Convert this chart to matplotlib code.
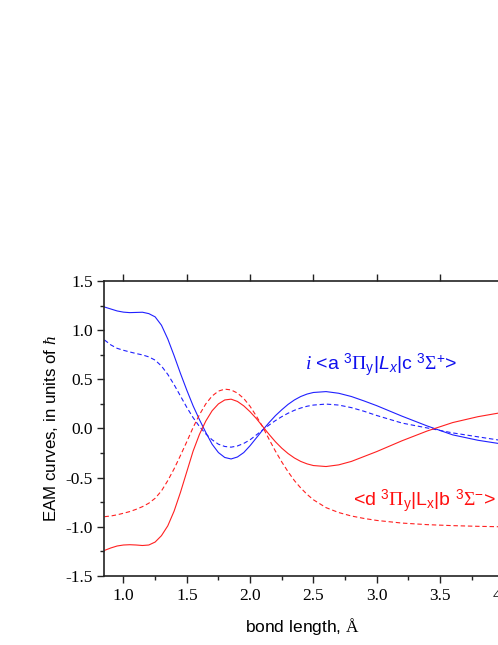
import numpy as np
import matplotlib
matplotlib.use("Agg")
import matplotlib.pyplot as plt
from matplotlib.ticker import MultipleLocator

# --- data (bond length in Angstrom, EAM in units of hbar) ---
bond_length = [0.85, 0.90, 0.95, 1.00, 1.05, 1.10, 1.15, 1.20, 1.25, 1.30, 1.35, 1.40,
               1.45, 1.50, 1.55, 1.60, 1.65, 1.70, 1.75, 1.80, 1.85, 1.90, 1.95, 2.00,
               2.05, 2.10, 2.15, 2.20, 2.25, 2.30, 2.35, 2.40, 2.45, 2.50, 2.60, 2.70,
               2.80, 2.90, 3.00, 3.20, 3.40, 3.60, 3.80, 4.00]

# i <a 3Pi_y | L_x | c 3Sigma+>
ac_solid = [1.235, 1.215, 1.195, 1.183, 1.178, 1.18, 1.182, 1.168, 1.135, 1.05, 0.91, 0.74,
            0.56, 0.39, 0.23, 0.09, -0.04, -0.16, -0.245, -0.295, -0.31, -0.29, -0.245, -0.175,
            -0.095, -0.015, 0.06, 0.13, 0.19, 0.245, 0.29, 0.325, 0.35, 0.366, 0.375, 0.358,
            0.325, 0.28, 0.232, 0.125, 0.025, -0.065, -0.12, -0.16]
ac_dashed = [0.90, 0.85, 0.815, 0.795, 0.778, 0.762, 0.748, 0.728, 0.695, 0.635, 0.55, 0.445,
             0.33, 0.215, 0.11, 0.02, -0.055, -0.115, -0.16, -0.183, -0.19, -0.178, -0.152, -0.115,
             -0.065, -0.015, 0.035, 0.08, 0.12, 0.155, 0.185, 0.208, 0.226, 0.238, 0.248, 0.238,
             0.212, 0.175, 0.132, 0.055, 0.005, -0.045, -0.085, -0.125]

# <d 3Pi_y | L_x | b 3Sigma->
db_solid = [-1.24, -1.215, -1.195, -1.185, -1.182, -1.185, -1.19, -1.185, -1.155, -1.09, -0.99, -0.84,
            -0.65, -0.44, -0.23, -0.06, 0.075, 0.18, 0.25, 0.29, 0.298, 0.275, 0.23, 0.17,
            0.10, 0.02, -0.06, -0.135, -0.20, -0.255, -0.30, -0.335, -0.36, -0.377, -0.387, -0.37,
            -0.335, -0.285, -0.235, -0.125, -0.025, 0.06, 0.12, 0.165]
db_dashed = [-0.897, -0.89, -0.878, -0.862, -0.845, -0.822, -0.795, -0.76, -0.71, -0.635, -0.53, -0.41,
             -0.275, -0.135, 0.01, 0.14, 0.25, 0.33, 0.38, 0.40, 0.392, 0.36, 0.305, 0.225,
             0.125, 0.015, -0.11, -0.23, -0.34, -0.44, -0.53, -0.605, -0.67, -0.725, -0.805, -0.855,
             -0.89, -0.915, -0.935, -0.962, -0.978, -0.988, -0.995, -1.0]

# mathtext: serif for greek / hbar / Angstrom, sans for the rest
plt.rcParams['mathtext.fontset'] = 'custom'
plt.rcParams['mathtext.rm'] = 'Liberation Serif'
plt.rcParams['mathtext.it'] = 'Liberation Serif:italic'
plt.rcParams['mathtext.sf'] = 'Liberation Sans'
plt.rcParams['mathtext.bf'] = 'Liberation Sans:italic'
plt.rcParams['font.family'] = ['Liberation Sans', 'DejaVu Sans']

fig = plt.figure(figsize=(4.98, 6.45), dpi=100)
# axes run past the right edge of the picture, like the cropped original
ax = fig.add_axes([0.2098, 0.107, 0.928, 0.4574])

blue, red = '#2020ff', '#ff2020'
dash = (0, (4, 2.5))
ax.plot(bond_length, ac_solid, color=blue, lw=0.8)
ax.plot(bond_length, ac_dashed, color=blue, lw=0.8, ls=dash)
ax.plot(bond_length, db_solid, color=red, lw=0.8)
ax.plot(bond_length, db_dashed, color=red, lw=0.8, ls=dash)

ax.set_xlim(0.85, 4.5)
ax.set_ylim(-1.5, 1.5)
ax.xaxis.set_major_locator(MultipleLocator(0.5))
ax.xaxis.set_minor_locator(MultipleLocator(0.25))
ax.yaxis.set_major_locator(MultipleLocator(0.5))
ax.yaxis.set_minor_locator(MultipleLocator(0.25))
ax.xaxis.set_major_formatter(lambda v, pos: f"{v:.1f}")
ax.yaxis.set_major_formatter(lambda v, pos: f"{v:.1f}")

ax.tick_params(which='both', direction='out', top=True, right=False, width=1.0, color='#222222')
ax.tick_params(which='major', length=5)
ax.tick_params(which='minor', length=3, top=False)
ax.tick_params(axis='both', labelsize=12.5, pad=3.5)
for lab in ax.get_xticklabels() + ax.get_yticklabels():
    lab.set_fontfamily('Liberation Serif')
for sp in ax.spines.values():
    sp.set_linewidth(1.2)
    sp.set_color('#222222')

ax.set_xlabel(r'bond length, $\mathrm{Å}$', fontsize=12.5)
ax.xaxis.set_label_coords(0.4286, -0.135)
ax.set_ylabel(r'EAM curves, in units of $\hbar$', fontsize=12.2, labelpad=4)

ax.text(2.437, 0.595,
        r'$\mathit{i}$ <a $^{\mathsf{3}}\mathrm{\Pi}_{\mathsf{y}}$|$\mathbf{L}_{\mathbf{x}}$|c $^{\mathsf{3}}\mathrm{\Sigma}^{\mathsf{+}}$>',
        color='#1010ee', fontsize=14, va='baseline', ha='left')
ax.text(2.81, -0.795,
        r'<d $^{\mathsf{3}}\mathrm{\Pi}_{\mathsf{y}}$|L$_{\mathsf{x}}$|b $^{\mathsf{3}}\mathrm{\Sigma}^{\mathsf{-}}$>',
        color='#ff1010', fontsize=14, va='baseline', ha='left')

fig.savefig('out.png', dpi=100)
